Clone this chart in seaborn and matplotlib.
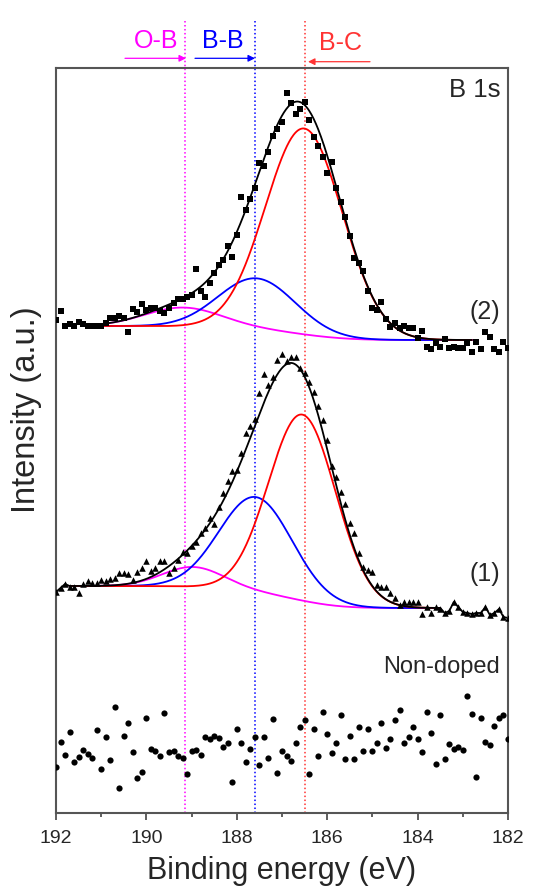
import numpy as np
import pandas as pd
import matplotlib
matplotlib.use("Agg")
import matplotlib.pyplot as plt
import seaborn as sns

# ---------------- data ----------------
energy = np.round(np.linspace(192.0, 182.0, 101), 1)   # binding energy grid (eV)

spec2_intensity = [
    493, 502, 487, 489, 487, 491, 489, 487, 487, 487,
    487, 490, 495, 495, 497, 495, 481, 504, 501, 509,
    503, 505, 505, 502, 500, 505, 510, 514, 514, 516,
    518, 544, 522, 516, 530, 540, 548, 553, 567, 556,
    578, 616, 603, 614, 625, 650, 647, 661, 677, 684,
    691, 720, 710, 699, 704, 711, 693, 676, 667, 656,
    640, 651, 625, 611, 596, 577, 555, 550, 542, 522,
    505, 503, 511, 494, 486, 490, 485, 487, 485, 485,
    475, 482, 466, 464, 470, 466, 474, 465, 466, 465,
    465, 470, 461, 471, 464, 481, 476, 464, 461, 471, 465]

spec1_intensity = [
    221, 225, 229, 226, 226, 220, 229, 232, 230, 230,
    233, 232, 234, 235, 240, 240, 239, 233, 241, 245,
    252, 242, 245, 252, 252, 240, 245, 253, 261, 260,
    267, 271, 280, 285, 295, 289, 306, 320, 332, 342,
    343, 360, 380, 387, 394, 420, 439, 428, 436, 453,
    459, 452, 456, 456, 445, 440, 431, 421, 407, 393,
    373, 347, 336, 321, 309, 290, 280, 260, 246, 243,
    241, 228, 226, 226, 220, 215, 208, 211, 211, 211,
    211, 199, 206, 200, 206, 204, 200, 202, 211, 206,
    201, 200, 199, 200, 200, 206, 198, 200, 204, 196, 195]

nondoped_intensity = [
    46, 71, 58, 81, 51, 56, 63, 59, 55, 83,
    44, 76, 53, 106, 25, 77, 90, 61, 35, 41,
    95, 64, 62, 57, 100, 61, 62, 57, 55, 39,
    62, 63, 58, 76, 74, 77, 75, 66, 70, 31,
    84, 70, 51, 64, 76, 48, 76, 55, 94, 40,
    62, 57, 52, 70, 86, 93, 39, 84, 57, 101,
    79, 60, 70, 98, 54, 77, 54, 86, 62, 84,
    62, 70, 90, 65, 74, 93, 103, 70, 76, 86,
    74, 61, 101, 80, 49, 98, 54, 69, 64, 66,
    63, 117, 99, 36, 95, 71, 68, 87, 95, 98, 74]

# fitted components: B-C, B-B, O-B
comp_colors = ["#FF0000", "#0000FF", "#FF00FF"]
spec2_centers = [186.51, 187.56, 189.18]
spec2_heights = [206, 51, 19]
spec2_fwhm = [2.0, 2.0, 2.0]
spec2_bg = [487, 473]          # high-BE side, low-BE side
spec2_range = [191.0, 182.8]

spec1_centers = [186.55, 187.58, 188.96]
spec1_heights = [186, 95, 20]
spec1_fwhm = [1.75, 1.9, 1.6]
spec1_bg = [227, 205]
spec1_range = [191.7, 183.5]

ref_positions = [189.15, 187.6, 186.5]
ref_labels = ["O-B", "B-B", "B-C"]
ref_colors = ["#FF00FF", "#0000FF", "#FF3333"]

x_ticks = [192, 190, 188, 186, 184, 182]


def fit_curves(centers, heights, fwhm, bg, rng):
    E = np.linspace(rng[0], rng[1], 500)
    peaks = [h * np.exp(-4 * np.log(2) * ((E - c) / w) ** 2)
             for c, h, w in zip(centers, heights, fwhm)]
    total = np.sum(peaks, axis=0)
    Ea, Ta = E[::-1], total[::-1]
    cum = np.concatenate([[0], np.cumsum(0.5 * (Ta[1:] + Ta[:-1]) * np.diff(Ea))])
    frac = (cum / cum[-1])[::-1]
    bgc = bg[1] + (bg[0] - bg[1]) * frac
    return E, bgc, peaks, total


# ---------------- figure ----------------
sns.set_theme(style="ticks")
plt.rcParams["font.family"] = ["Liberation Sans", "DejaVu Sans"]

W, H = 535, 888
fig = plt.figure(figsize=(W / 100, H / 100), dpi=100)
ax = fig.add_axes([56 / W, (H - 813) / H, 452 / W, 745 / H])

lw = 1.3
for centers, heights, fwhm, bg, rng, data, marker, msize, tails in [
        (spec2_centers, spec2_heights, spec2_fwhm, spec2_bg, spec2_range,
         spec2_intensity, "s", 13, False),
        (spec1_centers, spec1_heights, spec1_fwhm, spec1_bg, spec1_range,
         spec1_intensity, "^", 22, True)]:
    E, bgc, peaks, total = fit_curves(centers, heights, fwhm, bg, rng)
    for pk, col in list(zip(peaks, comp_colors))[::-1]:
        sns.lineplot(x=E, y=bgc + pk, color=col, lw=lw, sort=False,
                     estimator=None, ax=ax)
    ex, ey = E, bgc + total
    if tails:
        d = np.asarray(data)
        left = energy > rng[0] + 0.05
        right = energy < rng[1] - 0.05
        ex = np.concatenate([energy[left], E, energy[right]])
        ey = np.concatenate([d[left], bgc + total, d[right]])
    sns.lineplot(x=ex, y=ey, color="black", lw=lw, sort=False,
                 estimator=None, ax=ax)
    sns.scatterplot(x=energy, y=data, marker=marker, s=msize, color="black",
                    linewidth=0, ax=ax, zorder=3)

sns.scatterplot(x=energy, y=nondoped_intensity, marker="o", s=20,
                color="black", linewidth=0, ax=ax, zorder=3)

# reference dotted lines (extend above the frame)
for pos, col in zip(ref_positions, ref_colors):
    ax.vlines(pos, 0, 793, colors=col, linestyles=(0, (1, 1.6)), lw=1.1,
              clip_on=False, zorder=1)

ax.set_xlim(192, 182)
ax.set_ylim(0, 745)
ax.set_xticks(x_ticks)
ax.set_xticks(np.arange(182, 193, 1), minor=True)
ax.set_yticks([])
ax.tick_params(axis="x", which="major", direction="out", length=5, width=1.1,
               labelsize=14, pad=7, color="#333333")
ax.tick_params(axis="x", which="minor", direction="out", length=3, width=1.1,
               color="#333333")
for sp in ax.spines.values():
    sp.set_visible(True)
    sp.set_linewidth(1.5)
    sp.set_color("#555555")

ax.set_xlabel("Binding energy (eV)", fontsize=22, labelpad=7)
ax.set_ylabel("Intensity (a.u.)", fontsize=23.5)
ax.yaxis.set_label_coords(-0.031, 0.542)

# in-plot labels
ax.text(0.9845, 0.961, "B 1s", transform=ax.transAxes, ha="right",
        va="baseline", fontsize=18.5)
ax.text(0.982, 0.663, "(2)", transform=ax.transAxes, ha="right",
        va="baseline", fontsize=18)
ax.text(0.982, 0.312, "(1)", transform=ax.transAxes, ha="right",
        va="baseline", fontsize=18)
ax.text(0.982, 0.188, "Non-doped", transform=ax.transAxes, ha="right",
        va="baseline", fontsize=17)

# top annotations with arrows
label_x = [156, 222.5, 340.5]
label_y = [48, 48, 50]
arrow_px = [(125, 186, 58.3), (195, 255, 58.3), (370, 308, 61.7)]
for lab, col, lx, ly, (x0, x1, ay) in zip(ref_labels, ref_colors, label_x,
                                          label_y, arrow_px):
    fig.text(lx / W, 1 - ly / H, lab, color=col, ha="center", va="baseline",
             fontsize=18)
    ax.annotate("", xy=(x1 / W, 1 - ay / H), xytext=(x0 / W, 1 - ay / H),
                xycoords="figure fraction", textcoords="figure fraction",
                arrowprops=dict(arrowstyle="-|>", color=col, lw=0.9,
                                mutation_scale=10, shrinkA=0, shrinkB=0))

fig.savefig("out.png", dpi=100)
